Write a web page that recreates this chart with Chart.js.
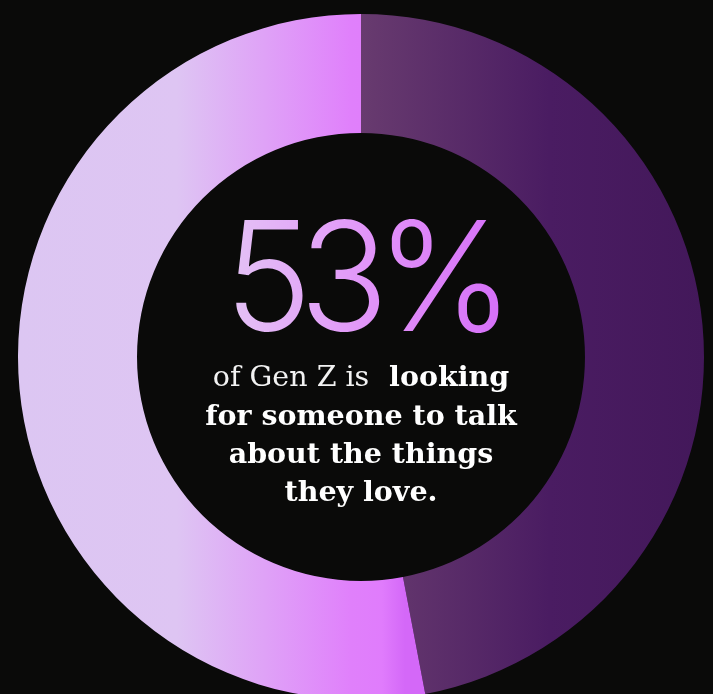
<!DOCTYPE html>
<html>
<head>
<meta charset="utf-8">
<script src="https://cdn.jsdelivr.net/npm/chart.js@4"></script>
<style>
    html, body {
        margin: 0;
        padding: 0;
        background: #0a0a09;
        width: 713px;
        height: 694px;
        overflow: hidden;
    }
    #wrap {
        position: relative;
        width: 713px;
        height: 720px;
    }
    #ring {
        position: absolute;
        left: 0;
        top: 0;
    }
    .big {
        position: absolute;
        left: 0;
        width: 736px;
        top: 176px;
        text-align: center;
        font-family: Inter, sans-serif;
        font-weight: 300;
        font-size: 152px;
        line-height: 200px;
        letter-spacing: -13px;
    }
    .big span {
        display: inline-block;
        padding: 0 13px 0 2px;
        transform: scaleX(0.97);
        background: linear-gradient(90deg, #e4c4f5 0%, #e190f9 55%, #d46cf8 100%);
        -webkit-background-clip: text;
        background-clip: text;
        color: transparent;
    }
    .caption {
        position: absolute;
        left: 0;
        width: 722px;
        top: 357px;
        text-align: center;
        font-family: "DejaVu Serif", serif;
        font-weight: bold;
        font-size: 28.5px;
        line-height: 38px;
        color: #ffffff;
    }
    .caption .light {
        font-weight: normal;
        color: #f2f2f2;
    }
</style>
</head>
<body>
<div id="wrap">
    <canvas id="ring" width="713" height="720"></canvas>
    <div class="big"><span>53%</span></div>
    <div class="caption">
        <span class="light">of Gen Z is</span>&nbsp; looking<br>
        for someone to talk<br>
        about the things<br>
        they love.
    </div>
</div>
<script>
// Доли ответов: тёмный сектор — остальные, светлый — «ищут собеседника»
const labels = ['Остальные', 'Ищут собеседника'];
const shares = [47, 53];

// Горизонтальные градиенты для каждого сектора
function sliceFill(context) {
    const chart = context.chart;
    const area = chart.chartArea;
    if (!area) return '#cccccc';
    const ctx = chart.ctx;
    const cx = (area.left + area.right) / 2;

    if (context.dataIndex === 0) {
        const g = ctx.createLinearGradient(cx, 0, area.right, 0);
        g.addColorStop(0, '#683b6f');
        g.addColorStop(0.55, '#4a1c62');
        g.addColorStop(1, '#43185a');
        return g;
    }
    const g = ctx.createLinearGradient(area.left, 0, cx + 44, 0);
    g.addColorStop(0, '#dcc6f2');
    g.addColorStop(0.41, '#dec5f3');
    g.addColorStop(0.86, '#e080fb');
    g.addColorStop(0.94, '#e07cfc');
    g.addColorStop(1, '#d468f8');
    return g;
}

new Chart(document.getElementById('ring'), {
    type: 'doughnut',
    data: {
        labels: labels,
        datasets: [{
            data: shares,
            backgroundColor: sliceFill,
            borderWidth: 0,
            hoverOffset: 0
        }]
    },
    options: {
        responsive: false,
        animation: false,
        cutout: '65.3%',
        rotation: 0,
        layout: {
            padding: { left: 18, right: 9, top: 14, bottom: 20 }
        },
        plugins: {
            legend: { display: false },
            tooltip: { enabled: false }
        },
        events: []
    }
});
</script>
</body>
</html>
